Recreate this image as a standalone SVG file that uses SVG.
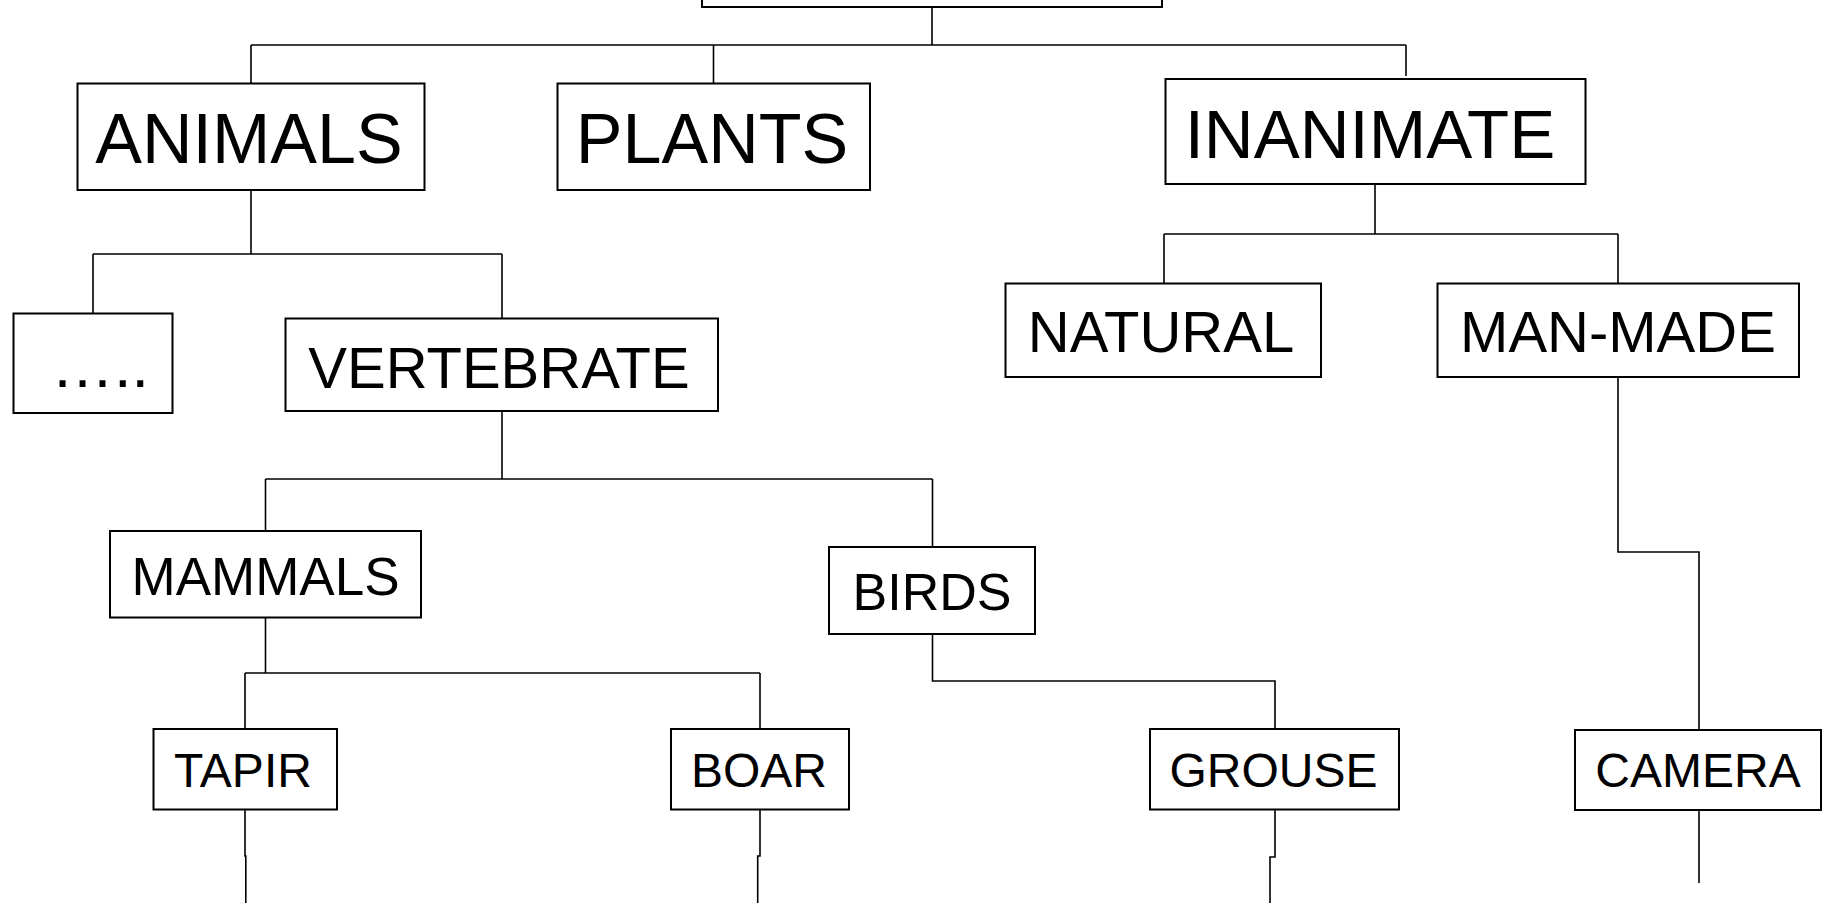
<svg xmlns="http://www.w3.org/2000/svg" width="1822" height="903" viewBox="0 0 1822 903">
<style>
.box{fill:#fff;stroke:#000;stroke-width:2}
.t{font-family:"Liberation Sans",Arial,sans-serif;fill:#000;text-anchor:middle}
.c{fill:none;stroke:#000;stroke-width:1.6}
</style>
<rect width="1822" height="903" fill="#fff"/>
<g id="connectors">
<path class="c" d="M932,7 V45 M251,45 H1406 M251,45 V83 M713.5,45 V83 M1406,45 V76"/>
<path class="c" d="M251,190 V254 M93,254 H502 M93,254 V313 M502,254 V318"/>
<path class="c" d="M502,411 V479 M265.5,479 H932.5 M265.5,479 V531 M932.5,479 V547"/>
<path class="c" d="M265.5,618 V673 M245,673 H760 M245,673 V729 M760,673 V729"/>
<path class="c" d="M245,810 V856 H245.8 V903 M760,810 V856 H757.7 V903"/>
<path class="c" d="M932.5,634 V681 H1275 V729 M1275,810 V857 H1270 V903"/>
<path class="c" d="M1375,184 V234 M1164,234 H1618 M1164,234 V283 M1618,234 V283"/>
<path class="c" d="M1618,377 V552 H1699 V730 M1699,810 V883"/>
</g>
<g id="root"><rect class="box" x="702" y="-40" width="460" height="47"/></g>
<g id="animals"><rect class="box" x="77.5" y="83.5" width="347" height="106.5"/><text class="t" x="249" y="163" font-size="70">ANIMALS</text></g>
<g id="plants"><rect class="box" x="557.5" y="83.5" width="312.5" height="106.5"/><text class="t" x="712" y="163" font-size="70">PLANTS</text></g>
<g id="inanimate"><rect class="box" x="1165.5" y="79" width="420" height="105"/><text class="t" x="1370" y="158" font-size="69">INANIMATE</text></g>
<g id="dots"><rect class="box" x="13.5" y="313.5" width="159" height="99.5"/><text class="t" x="51" y="387" font-size="63" style="text-anchor:start">&#8230;..</text></g>
<g id="vertebrate"><rect class="box" x="285.5" y="318.5" width="432.5" height="92.5"/><text class="t" x="499" y="388" font-size="58">VERTEBRATE</text></g>
<g id="natural"><rect class="box" x="1005.5" y="283.5" width="315.5" height="93.5"/><text class="t" x="1161" y="352" font-size="58">NATURAL</text></g>
<g id="manmade"><rect class="box" x="1437.5" y="283.5" width="361.5" height="93.5"/><text class="t" x="1618" y="352" font-size="58">MAN-MADE</text></g>
<g id="mammals"><rect class="box" x="110" y="531" width="311" height="86.5"/><text class="t" x="265.5" y="595" font-size="53">MAMMALS</text></g>
<g id="birds"><rect class="box" x="829" y="547" width="206" height="87"/><text class="t" x="932" y="610" font-size="52">BIRDS</text></g>
<g id="tapir"><rect class="box" x="153.5" y="729" width="183.5" height="80.5"/><text class="t" x="243" y="787" font-size="48">TAPIR</text></g>
<g id="boar"><rect class="box" x="671" y="729" width="178" height="80.5"/><text class="t" x="759" y="787" font-size="48">BOAR</text></g>
<g id="grouse"><rect class="box" x="1150" y="729" width="249" height="80.5"/><text class="t" x="1273.5" y="787" font-size="48">GROUSE</text></g>
<g id="camera"><rect class="box" x="1575" y="730" width="246" height="80"/><text class="t" x="1698" y="787" font-size="48">CAMERA</text></g>
</svg>
